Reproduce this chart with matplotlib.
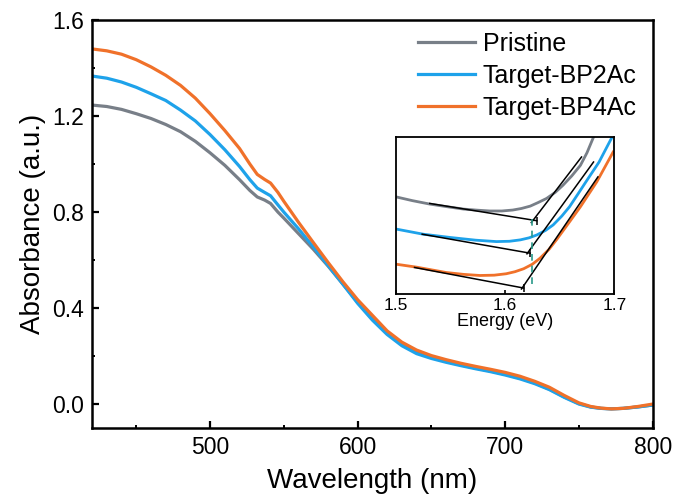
import matplotlib.pyplot as plt
from matplotlib.ticker import MultipleLocator

plt.rcParams['font.family'] = ['Liberation Sans', 'DejaVu Sans']

# main spectra
wavelength = [420, 430, 440, 450, 460, 470, 480, 490, 500, 510, 520, 527, 532, 537, 541, 546,
              550, 560, 570, 580, 590, 600, 610, 620, 630, 640, 650, 660, 670, 680, 690, 700,
              710, 720, 730, 740, 750, 758, 765, 772, 780, 790, 800]
pristine = [1.246, 1.24, 1.228, 1.21, 1.19, 1.165, 1.135, 1.095, 1.047, 0.995, 0.935, 0.89, 0.863,
            0.85, 0.836, 0.80, 0.775, 0.71, 0.645, 0.575, 0.50, 0.425, 0.355, 0.295, 0.25, 0.215,
            0.195, 0.178, 0.163, 0.15, 0.138, 0.124, 0.108, 0.088, 0.062, 0.03, 0.002, -0.012,
            -0.018, -0.02, -0.018, -0.012, -0.004]
bp2ac = [1.367, 1.358, 1.342, 1.32, 1.293, 1.265, 1.225, 1.18, 1.123, 1.06, 0.99, 0.935, 0.9,
         0.882, 0.868, 0.83, 0.80, 0.73, 0.655, 0.578, 0.50, 0.42, 0.35, 0.29, 0.243, 0.21,
         0.19, 0.174, 0.16, 0.147, 0.135, 0.121, 0.105, 0.085, 0.06, 0.028, 0.0, -0.013,
         -0.018, -0.02, -0.018, -0.012, -0.004]
bp4ac = [1.48, 1.472, 1.458, 1.435, 1.405, 1.37, 1.328, 1.275, 1.21, 1.14, 1.065, 1.0, 0.957,
         0.936, 0.921, 0.882, 0.845, 0.757, 0.673, 0.59, 0.51, 0.435, 0.37, 0.305, 0.258, 0.225,
         0.202, 0.185, 0.17, 0.157, 0.145, 0.132, 0.116, 0.095, 0.07, 0.036, 0.005, -0.01,
         -0.017, -0.02, -0.018, -0.01, 0.0]

# inset (Tauc-like, arbitrary y units)
e_gray = [1.5, 1.515, 1.531, 1.547, 1.562, 1.575, 1.586, 1.597, 1.607, 1.615, 1.623, 1.63, 1.638,
          1.646, 1.653, 1.661, 1.669, 1.675, 1.681]
y_gray = [0.619, 0.595, 0.573, 0.556, 0.541, 0.534, 0.529, 0.529, 0.535, 0.545, 0.560, 0.582, 0.609,
          0.648, 0.693, 0.752, 0.820, 0.900, 1.0]
e_blue = [1.5, 1.525, 1.55, 1.573, 1.592, 1.604, 1.614, 1.622, 1.629, 1.637, 1.644, 1.652, 1.659,
          1.667, 1.675, 1.686, 1.698]
y_blue = [0.414, 0.381, 0.36, 0.343, 0.334, 0.336, 0.345, 0.358, 0.376, 0.405, 0.440, 0.497, 0.556,
          0.64, 0.725, 0.84, 1.0]
e_orange = [1.5, 1.519, 1.546, 1.562, 1.577, 1.59, 1.601, 1.609, 1.617, 1.625, 1.632, 1.64, 1.647,
            1.658, 1.669, 1.684, 1.699]
y_orange = [0.190, 0.171, 0.137, 0.125, 0.118, 0.120, 0.129, 0.142, 0.161, 0.19, 0.228, 0.283, 0.345,
            0.45, 0.556, 0.715, 0.905]

# tangent lines in the inset: baseline (E0, y0, E1, y1), steep edge (E0, y0, E1, y1)
baselines = [(1.531, 0.577, 1.629, 0.467), (1.524, 0.381, 1.623, 0.260), (1.517, 0.169, 1.617, 0.038)]
edges = [(1.624, 0.455, 1.670, 0.873), (1.620, 0.256, 1.681, 0.841), (1.615, 0.032, 1.685, 0.746)]
e_gap = 1.625

labels = ['Pristine', 'Target-BP2Ac', 'Target-BP4Ac']
colors = ['#787f88', '#1ea2ea', '#f0712a']

fig = plt.figure(figsize=(6.78, 5.03), dpi=100)
ax = fig.add_axes([0.1357, 0.149, 0.827, 0.811])

for ys, lab, c in zip([pristine, bp2ac, bp4ac], labels, colors):
    ax.plot(wavelength, ys, color=c, lw=2.3, label=lab)

ax.set_xlim(420, 800)
ax.set_ylim(-0.1, 1.6)
ax.xaxis.set_major_locator(MultipleLocator(100))
ax.xaxis.set_minor_locator(MultipleLocator(50))
ax.yaxis.set_major_locator(MultipleLocator(0.4))
ax.yaxis.set_minor_locator(MultipleLocator(0.2))
ax.yaxis.set_major_formatter(plt.FuncFormatter(lambda v, p: f'{v:.1f}'))
ax.tick_params(which='major', direction='in', length=5, width=1.6, labelsize=16.5, pad=6)
ax.tick_params(which='minor', direction='in', length=2.5, width=1.4)
for s in ax.spines.values():
    s.set_linewidth(1.8)
ax.set_xlabel('Wavelength (nm)', fontsize=20, labelpad=6)
ax.set_ylabel('Absorbance (a.u.)', fontsize=20, labelpad=4)

ax.legend(loc='upper left', bbox_to_anchor=(0.616, 0.937), bbox_transform=fig.transFigure,
          frameon=False, fontsize=18, handlelength=2.3, handletextpad=0.3,
          labelspacing=0.33, borderpad=0, borderaxespad=0)

# inset
ins = fig.add_axes([0.584, 0.4155, 0.322, 0.312])
for e, y, c in zip([e_gray, e_blue, e_orange], [y_gray, y_blue, y_orange], colors):
    ins.plot(e, y, color=c, lw=2.0)
for e0, y0, e1, y1 in baselines:
    ins.plot([e0, e1], [y0, y1], color='black', lw=1.1)
    ins.plot([e1], [y1], marker='|', ms=6, mew=1.1, color='black')
for e0, y0, e1, y1 in edges:
    ins.plot([e0, e1], [y0, y1], color='black', lw=1.1)
ins.plot([e_gap, e_gap], [0.066, 0.488], color='#2a9a8a', lw=1.2, ls=(0, (4, 3)))
ins.set_xlim(1.5, 1.7)
ins.set_ylim(0, 1)
ins.set_xticks([1.5, 1.6, 1.7])
ins.set_yticks([])
ins.tick_params(direction='in', length=3, width=1.2, labelsize=12.5, pad=3)
for s in ins.spines.values():
    s.set_linewidth(1.3)
ins.set_xlabel('Energy (eV)', fontsize=13, labelpad=0)

fig.savefig('out.png', dpi=100)
